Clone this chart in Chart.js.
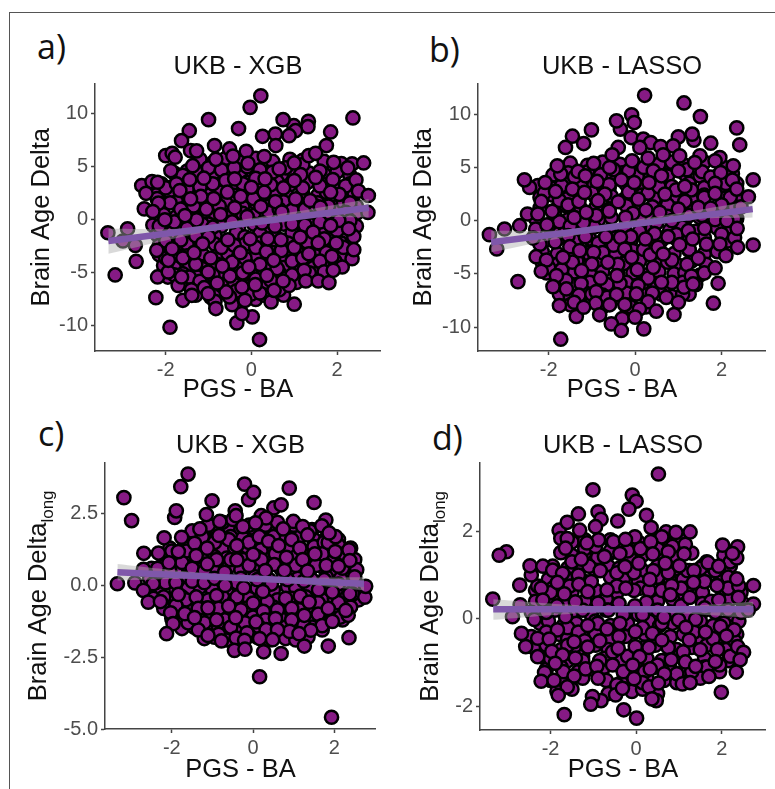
<!DOCTYPE html>
<html>
<head>
<meta charset="utf-8">
<title>Brain age delta panels</title>
<script src="https://cdn.jsdelivr.net/npm/chart.js@4/dist/chart.umd.min.js"></script>
<style>
    html, body { margin: 0; padding: 0; background: #fff; }
    #page { position: relative; width: 775px; height: 789px; overflow: hidden; }
    #frame { position: absolute; left: 9px; top: 12px; right: 0; bottom: 0; border-top: 1px solid #555; border-left: 1px solid #555; }
    canvas { position: absolute; }
    .panel-label { position: absolute; font-family: "Open Sans", sans-serif; font-size: 34px; line-height: 40px; color: #111; }
</style>
</head>
<body>
<div id="page">
    <div id="frame"></div>
    <div class="panel-label" style="left:37px; top:26px">a)</div>
    <div class="panel-label" style="left:429px; top:29px">b)</div>
    <div class="panel-label" style="left:38px; top:413px">c)</div>
    <div class="panel-label" style="left:432px; top:417px">d)</div>
    <canvas id="chart-a"></canvas>
    <canvas id="chart-b"></canvas>
    <canvas id="chart-c"></canvas>
    <canvas id="chart-d"></canvas>
</div>
<script>
const x_title = 'PGS - BA'
const x_ticks = [-2, 0, 2]

// dots mostly buried in the dense middle, positions are estimates, drawn first
const a_hidden = [
    [-1.2,5.7],[-.9,5.4],[-.6,5.8],[-.2,5.5],[.1,5.8],[.5,5.5],[.9,5.7],[1.2,5.6],[1.7,5.5],[2.1,5.3],
    [-1.8,4.4],[-1.5,4.6],[-1.15,4.2],[-.85,4.5],[-.55,4.3],[-.25,4.6],[.05,4.3],[.35,4.5],[.7,4.2],[1,4.5],[1.35,4.4],[1.7,4.3],[2,4.5],[2.3,4.2],
    [-2.1,3.4],[-1.85,3.1],[-1.3,3.6],[-1,3.2],[-.7,3.4],[-.45,3.1],[-.1,3.5],[.2,3.2],[.6,3.6],[.9,3.3],[1.3,3.5],[1.7,3.3],[2,3.1],[2.3,3.4],
    [-2.2,2.4],[-1.9,2.6],[-1.55,2.2],[-1.3,2.5],[-1,2.3],[-.75,2.6],[-.4,2.3],[-.1,2.6],[.15,2.3],[.55,2.6],[.85,2.2],[1.2,2.5],[1.55,2.3],[1.75,2.6],[2.2,2.2],[2.4,2.5],
    [-2.1,1.4],[-1.75,1.7],[-1.5,1.3],[-1.2,1.6],[-.95,1.3],[-.6,1.6],[-.2,1.2],[.1,1.6],[.4,1.3],[.75,1.7],[1.15,1.3],[1.55,1.6],[1.95,1.2],[2.15,1.6],[2.45,1.3],
    [-2.05,.5],[-1.75,.3],[-1.45,.7],[-1.1,.4],[-.85,.6],[-.5,.3],[-.2,.6],[.05,.4],[.4,.7],[.85,.3],[1.1,.6],[1.45,.3],[1.75,.6],[2.15,.3],[2.45,.6],
    [-2.3,-.5],[-1.95,-.8],[-1.65,-.4],[-1.35,-.7],[-1,-.4],[-.7,-.6],[-.3,-.8],[.05,-.4],[.4,-.7],[.75,-.4],[1.1,-.8],[1.4,-.5],[1.75,-.7],[2.1,-.4],[2.45,-.6],
    [-2.2,-1.4],[-1.85,-1.2],[-1.5,-1.6],[-1.2,-1.3],[-.85,-1.5],[-.35,-1.2],[-.15,-1.6],[.2,-1.3],[.55,-1.5],[.95,-1.2],[1.25,-1.6],[1.7,-1.3],[1.95,-1.5],[2.2,-1.2],
    [-2.15,-2.4],[-1.75,-2.6],[-1.5,-2.3],[-1.2,-2.5],[-.85,-2.3],[-.55,-2.5],[-.15,-2.3],[.2,-2.2],[.5,-2.5],[.85,-2.2],[1.15,-2.6],[1.5,-2.8],[1.75,-2.5],[2.1,-2.2],[2.3,-2.4],
    [-2.15,-3.3],[-1.8,-3.1],[-1.5,-3.4],[-1.15,-3.2],[-.8,-3.4],[-.55,-3.2],[-.3,-3.5],[.1,-3.3],[.5,-3.1],[.8,-3.5],[1.1,-3.2],[1.5,-3.4],[1.75,-3.1],[2.1,-3.4],
    [-2.05,-4.3],[-1.8,-4.5],[-1.45,-4.2],[-1.15,-4.6],[-.8,-4.2],[-.55,-4.5],[-.3,-4.3],[.05,-4.6],[.35,-4.3],[.75,-4.5],[1.05,-4.2],[1.45,-4.5],[1.75,-4.2],[2.05,-4.4],
    [-1.95,-5.4],[-1.6,-5.1],[-1.3,-5.3],[-1,-5.5],[-.7,-5.1],[-.35,-5.4],[0,-5.1],[.25,-5.3],[.65,-5],[.8,-5.5],[1.15,-5.2],[1.5,-5.1],
    [-1.7,-6],[-1.45,-6.2],[-1.1,-6],[-.9,-6.3],[-.55,-5.9],[-.4,-6.1],[-.05,-6.3],[.3,-6],[.6,-6.2],[1.05,-5.9],
    [-1.3,-7.1],[-.95,-7.3],[-.75,-6.9],[-.2,-7.2],[.1,-7.5],[.45,-7],[.75,-7.1]
]
const b_hidden = [
    [-1.5,5.4],[-1.1,5.2],[-.75,5.5],[-.35,5.3],[-.05,5.5],[.35,5.3],[.75,5.5],[1.15,5.2],[1.6,5.5],[2,5.2],
    [-1.9,4.3],[-1.55,4.5],[-1.25,4.2],[-.9,4.5],[-.6,4.2],[-.3,4.5],[.05,4.2],[.35,4.4],[.75,4.2],[1.15,4.4],[1.5,4.2],[1.9,4.2],[2.25,4.4],
    [-2.25,3.3],[-1.95,3.1],[-1.6,3.5],[-1.25,3.2],[-.95,3.4],[-.6,3.1],[-.2,3.4],[.1,3.1],[.5,3.4],[.85,3.2],[1.25,3.5],[1.6,3.1],[2.05,3.3],[2.35,3.5],
    [-2.2,2.2],[-1.9,2.4],[-1.55,2.1],[-1.25,2.4],[-.9,2.1],[-.55,2.3],[-.25,2],[.15,2.4],[.45,2.1],[.95,2.3],[1.3,2],[1.6,2.4],[2.05,2.1],[2.35,2.3],
    [-2.2,1.2],[-1.85,1],[-1.6,1.4],[-1.25,1.1],[-.9,1.3],[-.6,1.1],[-.2,1.4],[.1,1.1],[.4,1.3],[.75,1.5],[1.3,1.1],[1.55,1.4],[1.95,1],[2.3,1.3],
    [-2.3,.2],[-1.85,.4],[-1.55,.1],[-1.15,.3],[-.85,.1],[-.55,.3],[-.2,0],[.15,.3],[.4,.1],[.75,.4],[1.15,.1],[1.5,.3],[1.85,.5],[2.35,.2],
    [-2.3,-.8],[-1.9,-1],[-1.6,-.7],[-1.3,-.9],[-.95,-.6],[-.6,-.9],[-.25,-.7],[.1,-1],[.4,-.7],[.8,-.9],[1.1,-.6],[1.4,-1],[1.9,-.7],[2.2,-.9],
    [-2.05,-1.8],[-1.75,-1.6],[-1.4,-1.9],[-1.05,-1.7],[-.75,-1.9],[-.45,-1.6],[-.1,-1.9],[.3,-1.7],[.6,-1.9],[.95,-1.7],[1.2,-2],[1.6,-1.6],[2.15,-1.9],
    [-2.15,-2.9],[-1.8,-3.1],[-1.45,-2.8],[-1.1,-3],[-.8,-2.8],[-.45,-3.1],[-.05,-2.8],[.25,-3.1],[.5,-2.9],[.9,-3.1],[1.25,-2.8],[1.6,-3.1],[1.9,-2.9],
    [-2.15,-3.9],[-1.8,-4.1],[-1.35,-3.8],[-1.05,-4.1],[-.8,-3.8],[-.25,-4],[.1,-3.8],[.55,-4.1],[.75,-3.9],[1,-4.2],[1.3,-3.8],[1.65,-4.1],
    [-2.05,-4.9],[-1.6,-5.1],[-1.4,-4.8],[-1.05,-5],[-.75,-4.8],[-.4,-5],[-.05,-4.9],[.25,-5.1],[.55,-4.8],[.9,-5],[1.15,-4.9],[1.5,-5.1],
    [-1.7,-5.9],[-1.4,-6.1],[-1.05,-5.8],[-.65,-6],[-.2,-5.8],[.15,-6],[.5,-5.9],[.75,-6.1],[1.1,-5.8],[1.4,-6],
    [-1.75,-6.9],[-1.5,-7.1],[-1.15,-6.8],[-.75,-7],[-.2,-6.8],[.25,-7],[.6,-6.9],[.85,-7.1],[1.25,-6.9],
    [-1.5,-7.9],[-.75,-8.1],[-.1,-7.9],[.25,-8.1]
]
const c_hidden = [
    [-1.2,2],[-.9,1.95],[-.6,2.05],[-.3,1.95],[0,2],[.35,2],[.7,1.95],[1.05,2],[1.45,1.95],
    [-1.55,1.65],[-1.2,1.7],[-.85,1.6],[-.55,1.7],[-.25,1.65],[.1,1.6],[.45,1.7],[.8,1.6],[1.15,1.7],[1.5,1.6],[1.8,1.65],[2.1,1.6],
    [-2.05,1.3],[-1.7,1.35],[-1.35,1.25],[-1.05,1.35],[-.75,1.25],[-.45,1.3],[-.15,1.35],[.2,1.25],[.5,1.35],[.85,1.3],[1.2,1.25],[1.5,1.35],[1.8,1.25],[2.15,1.35],[2.4,1.3],
    [-2.2,.95],[-1.9,.9],[-1.55,1],[-1.25,.9],[-.95,1],[-.65,.95],[-.25,.9],[.1,1],[.4,.9],[.75,.95],[1.05,1],[1.4,.9],[1.7,.95],[2,.9],[2.3,1],[2.5,.9],
    [-2.5,.6],[-2.25,.65],[-1.9,.55],[-1.6,.65],[-1.3,.55],[-1,.6],[-.6,.65],[-.3,.55],[0,.6],[.35,.65],[.7,.55],[1,.6],[1.4,.55],[1.7,.65],[1.95,.55],[2.3,.65],[2.55,.55],
    [-2.55,.25],[-2.2,.3],[-1.95,.2],[-1.6,.3],[-1.3,.25],[-1,.2],[-.65,.3],[-.3,.25],[.05,.3],[.4,.2],[.75,.3],[1.1,.25],[1.45,.2],[1.8,.3],[2.15,.25],[2.5,.2],
    [-2.55,-.1],[-2.3,-.05],[-1.9,-.15],[-1.6,-.1],[-1.3,-.05],[-1,-.15],[-.6,-.1],[-.35,-.05],[.1,-.1],[.5,-.15],[.85,-.05],[1.05,-.1],[1.4,-.15],[1.8,-.05],[2.2,-.1],[2.6,-.15],
    [-2.45,-.45],[-2,-.5],[-1.75,-.4],[-1.4,-.45],[-1.1,-.5],[-.75,-.4],[-.45,-.5],[-.1,-.45],[.2,-.4],[.6,-.5],[.95,-.45],[1.3,-.4],[1.7,-.5],[2,-.45],[2.3,-.4],[2.6,-.5],
    [-2.2,-.8],[-1.8,-.85],[-1.5,-.75],[-1.15,-.8],[-.9,-.85],[-.55,-.75],[-.2,-.8],[.1,-.85],[.5,-.75],[.8,-.8],[1.15,-.85],[1.45,-.75],[1.75,-.8],[2.05,-.85],[2.4,-.75],
    [-2,-1.15],[-1.7,-1.1],[-1.3,-1.2],[-1,-1.1],[-.7,-1.2],[-.35,-1.15],[0,-1.1],[.3,-1.2],[.65,-1.1],[1,-1.15],[1.35,-1.2],[1.65,-1.1],[1.95,-1.15],[2.2,-1.2],
    [-1.75,-1.5],[-1.45,-1.45],[-1.15,-1.55],[-.85,-1.45],[-.6,-1.55],[-.25,-1.5],[.1,-1.45],[.45,-1.55],[.8,-1.45],[1.05,-1.55],[1.45,-1.45],[1.7,-1.55],
    [-1.2,-1.85],[-.95,-1.8],[-.65,-1.9],[-.3,-1.85],[.1,-1.8],[.4,-1.9],[.8,-1.85],[1.05,-1.9],[1.35,-1.8]
]
const d_hidden = [
    [-1.5,1.75],[-1.2,1.8],[-.95,1.7],[-.6,1.8],[-.3,1.7],[.05,1.75],[.45,1.8],[.8,1.7],[1.05,1.8],
    [-1.5,1.45],[-1.2,1.5],[-.9,1.4],[-.6,1.5],[-.15,1.4],[.15,1.45],[.55,1.5],[.95,1.4],[1.3,1.5],[2.05,1.45],
    [-1.6,1.15],[-1.25,1.2],[-.95,1.1],[-.65,1.2],[-.4,1.15],[.15,1.1],[.5,1.2],[.95,1.15],[1.25,1.1],[1.55,1.2],[1.8,1.15],[2.2,1.2],
    [-2.05,.9],[-1.65,.95],[-1.2,.85],[-.6,.95],[-.3,.9],[.05,.85],[.5,.95],[.8,.85],[1.1,.9],[1.6,.95],[1.95,.85],[2.25,.9],
    [-2.35,.65],[-1.95,.7],[-1.5,.6],[-.95,.65],[-.45,.6],[.1,.7],[.45,.65],[1,.6],[1.2,.7],[1.55,.6],[2.1,.65],[2.45,.6],
    [-2.35,.4],[-1.95,.45],[-1.6,.35],[-1.2,.4],[-.7,.45],[-.4,.35],[.5,.4],[.85,.45],[1.55,.35],[1.75,.4],[2.2,.45],[2.5,.35],
    [-2.45,.15],[-2.2,.1],[-1.9,.2],[-1.5,.15],[-1.05,.1],[-.7,.2],[-.2,.15],[.05,.1],[.35,.2],[.8,.15],[1.2,.1],[1.6,.2],[1.85,.15],[2.25,.1],[2.5,.2],
    [-2.25,-.1],[-2.05,-.05],[-1.7,-.15],[-1.4,-.1],[-.95,-.05],[-.6,-.15],[-.2,-.1],[.3,-.05],[.55,-.15],[.85,-.1],[1.5,-.05],[1.8,-.15],[2.05,-.1],[2.4,-.05],
    [-2.45,-.4],[-1.8,-.35],[-1.6,-.45],[-1.25,-.4],[-.95,-.35],[-.6,-.45],[-.25,-.4],[.2,-.35],[.45,-.45],[.8,-.4],[1.1,-.35],[1.45,-.45],[1.95,-.4],[2.35,-.35],
    [-2.4,-.65],[-2.1,-.6],[-1.75,-.7],[-1.45,-.65],[-.95,-.6],[-.65,-.7],[.2,-.65],[.45,-.6],[.95,-.7],[1.3,-.65],[1.65,-.6],[2.1,-.7],
    [-2.1,-.9],[-1.6,-.95],[-1.25,-.85],[-.75,-.9],[-.35,-.95],[-.1,-.85],[.25,-.9],[.6,-.95],[1,-.85],[1.6,-.9],[2.15,-.95],
    [-2.1,-1.15],[-1.75,-1.1],[-1.35,-1.2],[-1,-1.15],[-.75,-1.1],[-.3,-1.2],[.05,-1.15],[.45,-1.1],[.85,-1.2],[1.15,-1.15],[1.6,-1.1],[1.95,-1.2],
    [-2,-1.4],[-1.75,-1.45],[-1.25,-1.35],[-.7,-1.4],[-.35,-1.45],[.25,-1.35],[.65,-1.4],[.95,-1.45],[1.5,-1.35],
    [-1.85,-1.65],[-1.5,-1.6],[-.65,-1.7],[-.1,-1.65],[.15,-1.6],[.5,-1.7]
]

// [PGS, delta] of the dots that can be picked out in the picture
const a_points = [
    [-1.6,4.2],[-1.3,4.6],[-1,4.9],[-.7,4.7],[-.4,4.9],[-.1,5],[.2,4.7],[.5,4.5],[.8,4.9],[1.2,5.2],[1.6,4.6],[1.9,3.8],[2.2,3.2],
    [-2,3],[-1.75,3.4],[-1.5,2.9],[-1.2,3.1],[-.9,3.4],[-.6,3.7],[-.2,3.4],[.1,3.9],[.45,3.3],[.75,3],[1.2,3],[1.6,3.2],[2.05,2.4],[2.3,1.6],
    [-2.2,2],[-1.9,1.6],[-1.65,1],[-1.35,1.3],[-1.05,1],[-.75,1.3],[-.25,2.2],[.05,2],[.3,2.6],[.65,1],[.95,.9],[1.25,1],[1.5,1.3],[1.8,1.3],[2.2,.7],
    [-2.15,-.6],[-1.8,-.2],[-1.5,-.8],[-1.15,-.4],[-.9,-.7],[-.45,-.2],[-.1,.3],[.25,-.3],[.55,-.6],[.95,-.4],[1.25,-.5],[1.6,-.2],[2,-1],[2.3,-.1],
    [-2,-2],[-1.65,-1.9],[-1.3,-1.5],[-1,-1.6],[-.7,-2.6],[-.4,-2.4],[.1,-2.6],[.35,-3],[.7,-2.9],[1,-2.6],[1.3,-2.1],[1.7,-1.8],[2.15,-2.6],
    [-2,-3.6],[-1.6,-3.6],[-1.3,-4.2],[-.95,-3.6],[-.45,-4],[-.15,-3.6],[.2,-4.2],[.6,-4.6],[.95,-3.9],[1.2,-3.6],[1.6,-3.9],[1.95,-3.9],
    [-1.8,-5.2],[-1.45,-5.4],[-1.2,-5.8],[-.9,-5.2],[-.5,-5.3],[-.2,-5],[.1,-5.6],[.45,-5.7],[.95,-5.2],[1.35,-5],[1.7,-4.9],
    [-1.4,-6.6],[-1.1,-6.4],[-.7,-6.2],[-.35,-6.7],[0,-7],[.3,-7.1],[.65,-6.6],[-.85,-7.7],[-.45,-8],[-.15,-7.6],[.2,-6.9],
    [.22,11.69],[-.03,10.6],[-1,9.44],[2.37,9.6],[.99,8.87],[1.33,9.28],[1.32,8.78],[.74,9.44],[-.3,8.6],[-1.45,8.4],[1.85,8.28],[-1.63,7.46],[1.03,8.4],[.26,7.87],[.56,8.09],[.88,7.93],
    [1.75,7],[.57,7],[-.86,7],[-1.42,6.52],[-1.28,6.5],[-.51,6.68],[-.12,6.46],[-2,6.05],[-1.85,6.27],[-1.78,5.9],[-.83,5.7],[-.43,6],[.3,5.96],[1.34,6.05],[1.5,6.27],[1,5.36],[-.08,5.33],
    [1.92,5.42],[2.35,5.27],[2.62,5.36],[2.25,4.89],[-1.88,4.64],[-1.37,5.1],[.65,4.8],[1.15,4.26],[1.5,4],[2.44,3.76],[-2.56,3.23],[-2.32,3.6],[-2.19,3.54],[-2.46,2.5],[-1.67,2.76],[-1.44,3.8],
    [-1.11,3.92],[-.39,3.86],[.32,3.86],[0,3.07],[1,3.7],[2.5,2.7],[2.73,2.29],[1.85,2.6],[1.37,1.82],[1.03,1.97],[.56,1.72],[.22,1.25],[-.39,1.13],[-.56,2.6],[-.88,2],[-1.18,2.2],[-1.42,1.97],
    [-2.17,1.57],[-2.5,1.03],[-2.3,.78],[-2.02,0],[-1.28,0],[-.72,.5],[-1.55,.4],[.71,.72],[2.72,.69],[1.61,1.2],[2.04,-.06],[-3.35,-1.22],[-2.89,-.85],[-3,-2],[-2.71,-2.41],[-2.69,-3.92],[-3.18,-5.2],
    [-2.19,-5.39],[-2.23,-7.34],[-1.9,-10.13],[.19,-11.29],[1,-7.96],[-.34,-9.72],[.02,-9.15],[-.22,-8.84],[-.83,-8.37],[.46,-7.74],[-1.6,-7.59],[-1.39,-7.12],[-1.01,-6.96],[-.51,-7.27],[-.59,-6.8],
    [-.22,-6.33],[.09,-6.11],[.53,-6.65],[.88,-6.18],[.74,-5.77],[1.23,-4.76],[1.27,-5.77],[1.56,-5.77],[1.81,-5.92],[-1.71,-6.18],[-1.63,-5.39],[-1.94,-4.92],[-1.94,-3.82],[-2.21,-2.88],[-1.85,-2.73],
    [-1.14,-2.26],[-1.34,-3.1],[-1.01,-4.92],[-.8,-5.96],[-.68,-4.36],[-.55,-1.88],[-.26,-3.1],[-.06,-4.45],[-.03,-1.79],[.38,-1.79],[.69,-1.88],[.52,-3.82],[.36,-5.24],[1.14,-1.63],[1.34,-3.2],[1.44,-1.16],
    [1.56,-2.16],[1.88,-3.45],[1.98,-2.19],[1.85,-.53],[2.39,-1.57],[2.35,-3.67],[2.39,-2.82],[2.12,-4.45],[1.91,-4.76],[2.27,-.85]
]
const b_points = [
    [-1.7,3.3],[-1.4,4.1],[-1.1,4.6],[-.8,4.3],[-.5,4.8],[-.15,4.7],[.2,5],[.55,5.3],[.85,5.5],[1.2,4.8],[1.55,4.6],[1.75,4.1],[2.1,3.5],[2.2,2.2],
    [-2.1,2.6],[-1.75,1.9],[-1.55,1.5],[-1.3,1.8],[-1,2.6],[-.6,3.4],[-.15,2.7],[.3,2.6],[.55,3.2],[.95,2.9],[1.3,2.9],[1.6,2.2],[2,1.5],[2.45,1.3],
    [-2,-.5],[-1.75,-.1],[-1.5,-.5],[-1.2,-.2],[-.9,.5],[-.6,.9],[-.05,.7],[.25,1],[.5,-.2],[.85,0],[1.25,.5],[1.55,.5],[1.85,.1],[2.3,.2],
    [-2.2,-2.2],[-1.85,-2],[-1.55,-1.4],[-1.15,-1.5],[-.85,-2.1],[-.5,-2.3],[-.1,-1.5],[.2,-2.7],[.45,-1.2],[.95,-1.3],[1.25,-2.7],[1.65,-2.2],[2.3,-1.6],
    [-2,-4.4],[-1.7,-4.6],[-1.45,-3.9],[-1.05,-3.2],[-.75,-3],[-.4,-4.1],[.05,-4.6],[.35,-3.2],[.85,-3.7],[1.2,-4.1],[1.6,-4.9],
    [-1.6,-5.6],[-1.25,-5.9],[-.8,-5.4],[-.35,-5.9],[.3,-5.4],[.4,-6.8],[.85,-5.8],[1.3,-5.2],[-1.3,-7],[-1,-6.9],[-.65,-7.2],[-.1,-8.1],[.3,-7.6],[.72,-7.2],[1.1,-6.9],[-.3,-9.2],[.1,-8.3],
    [.22,11.78],[1.13,11.06],[1.51,9.78],[-.08,9.94],[-.02,9.22],[-.34,8.6],[-.43,9.38],[-1.01,8.53],[-1.45,7.94],[-1.19,7.25],[-1.61,6.88],[2.35,8.72],[2.42,7.13],[1.36,7.56],[1.32,8.13],[1,7.88],[1.75,7.28],
    [-.09,7.81],[.19,7.66],[.36,7.34],[.59,6.97],[.88,7.03],[-.39,6.88],[.11,6.88],[-.53,6.19],[.65,6.19],[1.03,6.09],[1.5,6.09],[.3,5.88],[-.07,5.63],[-.96,5.38],[-.59,5],[-1.72,4.38],[-1.8,5.16],[-1.32,4.63],
    [-1.15,4.22],[1.38,5.47],[1,4.69],[.42,4.69],[1.96,5.94],[1.85,5.63],[2.27,5.16],[1.98,4.53],[-2.44,3.13],[-2.56,3.84],[-2.08,3.59],[-1.84,2.75],[-1.45,2.97],[-.88,3.69],[-.32,3.84],[-.02,3.59],[.61,4.22],[.32,3.59],
    [1.15,3.22],[1.85,3.5],[2.25,3.81],[2.73,3.84],[2.35,2.97],[2.62,2.25],[1.85,2.56],[.69,2.5],[-.7,2.5],[-1.17,2.66],[.07,2.03],[-.86,1.88],[-.39,1.78],[-2.17,1.81],[1.15,1.81],[1.46,1.25],[1.75,1.19],
    [-2.49,.63],[-2.25,.63],[-1.92,.88],[-1.41,.31],[-1.13,.78],[-.22,.31],[.57,.78],[1,1.09],[-2.67,-.47],[-3.02,-.78],[-3.37,-1.31],[-3.2,-2.66],[-2.36,-1.63],[-2.04,-.38],[2.12,0],[2.36,-.72],[2.73,-2.28],[2.37,-2.5],
    [1.61,-.72],[2,-1.25],[1.23,-.94],[1.33,-1.72],[-.68,-1.5],[-.34,-1.56],[.24,-1.72],[.76,-1.5],[1.03,-2.25],[2.1,-3.28],[1.96,-2.19],[-.24,-2.66],[.53,-2.5],[-1.51,-2.44],[-1.28,-2.81],[-1.67,-3.44],[-2.29,-3.38],[-2.05,-3.69],
    [-.96,-2.97],[-.08,-3.44],[.65,-3.13],[1.46,-3.53],[1.85,-4.44],[-1,-4.06],[-.63,-3.91],[.42,-4.38],[-2.17,-4.75],[-1.82,-5.16],[-.42,-5.16],[-1.24,-4.69],[1.92,-5.88],[1.13,-6.25],[1.34,-5.94],[.61,-5.78],[.07,-6.09],
    [-1.9,-6.19],[-1.59,-6.41],[-.9,-6.66],[-.43,-6.94],[.03,-6.88],[-2.71,-5.72],[1.81,-7.75],[1,-7.66],[-1.41,-7.66],[-1.75,-7.97],[-.91,-7.75],[-.59,-7.9],[-.24,-7.88],[.49,-8.5],[.9,-8.81],
    [-1.36,-9],[-.82,-8.84],[-1.19,-8.13],[0,-9.06],[-.55,-9.69],[-.32,-10.31],[.2,-10.16],[-1.72,-11.13]
]
const c_points = [
    [-1.5,1.9],[-1.1,2.1],[-.75,2.2],[-.5,2.3],[-.1,2.1],[.3,2.1],[.6,2.2],[1,2.1],[1.4,1.9],[1.75,1.5],[2.1,1.4],
    [-2,1.2],[-1.65,1.2],[-1.25,1.7],[-.95,1.5],[-.6,1.6],[-.1,1.5],[.15,1.7],[.5,1.7],[.95,1.6],[1.15,1.3],[1.7,1.1],[1.85,1.5],[2.25,1.1],
    [-2.35,.6],[-2.05,.5],[-1.75,.8],[-1.5,.6],[-1.2,.5],[-.9,.9],[-.55,.9],[-.1,.7],[.2,.9],[.55,1.1],[1.05,.7],[1.55,.7],[1.8,.7],[2.2,.6],[2.5,.3],
    [-2.4,.1],[-2.15,.1],[-1.9,.1],[-1.5,.15],[-1.2,.1],[-.95,.25],[-.4,.1],[.1,.2],[.45,.05],[.85,.2],[1.25,.15],[1.75,.2],[2.1,.05],[2.45,-.3],
    [-2.2,-.4],[-1.65,-.5],[-1.4,-.4],[-.9,-.35],[-.4,-.4],[.35,-.55],[.8,-.45],[1.6,-.6],[2.1,-.6],[-1.9,-.7],[-1.35,-.8],[-.85,-.8],[-.3,-.85],[.25,-.9],[.6,-.85],[.95,-.8],[1.6,-1],[1.85,-.8],[2.15,-1.1],
    [-1.6,-1.3],[-1.2,-1.3],[-.9,-1.2],[-.55,-1.45],[-.2,-1.3],[.3,-1.2],[.55,-1.15],[.95,-1.2],[1.25,-1.4],[1.7,-1.4],[-1.35,-1.55],[-.85,-1.7],[-.15,-1.65],[.15,-1.45],[.9,-1.6],
    [-1.6,3.88],[-1.78,3.44],[-3.18,3.06],[-2.99,2.26],[-.21,3.53],[-.11,2.99],[.01,3.24],[.89,3.39],[-1.01,2.95],[.51,2.7],[.69,2.81],[1.5,2.89],[-1.93,2.37],[-1.89,2.6],[-1.15,2.47],[-.44,2.6],[-.42,2.43],[.2,2.43],[.32,2.35],
    [1.79,2.28],[1.69,2.08],[-.82,2.23],[-.25,2.05],[.06,2.18],[.99,2.23],[-1.31,1.97],[.74,1.97],[1.22,2.05],[2.03,1.7],[1.87,1.83],[-.84,1.74],[-1.76,1.68],[-2.19,1.66],[1.34,1.76],[-1.44,1.47],[-.4,1.39],[.38,1.54],[.63,1.39],
    [1.52,1.1],[-2.33,1.13],[-2.69,1.12],[-1.84,1.18],[-1.13,1.3],[0,1.08],[.82,.98],[2.36,1.24],[2.02,1.18],[1.22,.9],[-1.4,1.04],[-.4,.89],[2.38,.87],[-2.07,.79],[-1.13,.75],[2.1,.67],[-2.7,.56],[.52,.73],[.3,.52],[.77,.52],[1.34,.5],[-.7,.46],
    [-2.91,.09],[-3.34,.06],[-2.46,.06],[-2.7,-.17],[-.69,0],[-.23,-.08],[1.61,-.15],[1.95,-.23],[2.38,-.29],[2.75,-.41],[2.77,-.03],[.24,-.21],[-1.84,-.31],[1.16,-.37],[-2.58,-.58],[-2.28,-.56],[1.38,-.58],[0,-.61],
    [-1.11,-.78],[-.6,-.72],[2.34,-1.04],[2.28,-.87],[-2.03,-.95],[1.26,-1.04],[-1.68,-.98],[-1.44,-1.12],[-.43,-1.12],[.07,-1.27],[1.95,-1.25],[-1.97,-1.33],[.32,-1.54],[1.42,-1.56],[.6,-1.54],[-2.13,-1.68],[-1.11,-1.74],[1.13,-1.68],
    [-.42,-1.83],[.16,-1.85],[.48,-1.89],[-.78,-1.93],[-.21,-1.91],[1.26,-2.11],[1.85,-2.11],[2.36,-1.82],[-.46,-2.26],[-.2,-2.22],[.26,-2.31],[.69,-2.37],[.16,-3.18],[1.93,-4.59]
]
const d_points = [
    [-1.2,1.6],[-.95,1.65],[-.6,1.55],[-.2,1.55],[.1,1.6],[.5,1.6],[.85,1.65],[1.15,1.7],[1.65,1.3],[1.85,1.1],[2.2,1.3],[-1.95,1.2],[-1.5,1.3],[-1.1,1.2],[-.45,1.05],[-.05,1.05],[.4,1.1],[.75,1.05],[1.2,1.1],[1.5,1.15],[2.15,.95],
    [-2.3,.75],[-2,.6],[-1.55,.75],[-1.05,.85],[-.45,.75],[-.05,.65],[.3,.65],[.6,.65],[1.05,.7],[1.6,.85],[2.15,.7],[2.4,.75],
    [-2.1,.15],[-1.85,.3],[-1.25,.2],[-.65,.2],[-.3,.1],[.15,.1],[.5,.2],[1.05,.3],[1.6,.25],[2.15,.2],[2.45,.15],[-2.1,-.3],[-1.6,-.2],[-1.35,-.3],[-.9,-.1],[-.4,-.4],[.15,-.2],[.6,-.1],[1.35,-.3],[1.8,-.45],[2.3,-.5],
    [-2,-.9],[-1.6,-.6],[-1.2,-.5],[-.85,-.5],[-.55,-.75],[-.2,-.85],[.3,-.65],[.75,-.65],[1.1,-.75],[1.5,-.7],[1.9,-.7],[2.2,-.85],[-1.7,-1.2],[-1.25,-.95],[-.85,-.95],[-.55,-1.05],[-.3,-1.2],[.2,-1.2],[.5,-1.05],[.95,-1.25],[1.3,-1.2],[1.65,-1.1],[1.95,-1.05],[-.45,-1.5],[.15,-1.45],[.3,-1.55],
    [.52,3.3],[-1.01,2.94],[-.09,2.82],[0,2.68],[-.17,2.5],[.24,2.36],[-1.35,2.39],[-.89,2.44],[-.82,2.27],[-.43,2.23],[-1.8,2.02],[-1.61,2.2],[-1.32,2.02],[-.95,2.1],[.35,2.08],[.7,1.98],[.93,1.97],[1.26,1.98],
    [-1.76,1.83],[-1.61,1.83],[-.88,1.8],[-.53,1.76],[-.03,1.87],[.6,1.87],[.34,1.76],[-1.15,1.73],[-.25,1.81],[-1.76,1.51],[-1.65,1.61],[-3.03,1.53],[-3.2,1.45],[2.02,1.68],[2.37,1.64],[2.35,1.39],[2.25,1.49],[-.38,1.49],[.39,1.48],[.75,1.53],[1.12,1.48],
    [-1.28,1.36],[-.74,1.42],[.06,1.27],[.68,1.27],[-.26,1.19],[1.68,1.28],[1.93,1.2],[1.01,1.21],[-2.45,1],[-2.48,1.21],[-2.18,1.2],[-1.95,1.11],[-1.72,1.04],[-1.35,1],[-.84,1.1],[1.35,1.1],[2.35,.91],[-1.84,.83],[-2.72,.77],[-1.34,.79],[.32,.9],
    [1.34,.83],[1.89,.76],[2.74,.76],[-2.22,.7],[-.24,.7],[.83,.76],[-.68,.66],[-1.13,.62],[-1.68,.57],[.8,.55],[-3.35,.45],[-2.18,.43],[2.39,.49],[1.25,.49],[1.93,.43],[-2.71,.32],[-1.42,.39],[-.89,.36],[.24,.38],[-.03,.3],[2.74,.34],
    [-2.89,.05],[-2.38,-.01],[-1.65,.05],[.65,.04],[1.39,-.01],[2.62,.2],[-.38,-.1],[.99,-.02],[-2.68,-.33],[-1.13,-.15],[-1.84,-.25],[1.16,-.19],[-.68,-.23],[-.02,-.29],[1.97,-.17],[2.29,-.25],[.38,-.33],[1.62,-.3],
    [-2.3,-.44],[-2.03,-.46],[2.11,-.39],[1.24,-.48],[-1.45,-.52],[.6,-.48],[-2.58,-.63],[-1.97,-.74],[-1.13,-.64],[-.42,-.67],[-.02,-.63],[2.37,-.63],[2.51,-.76],[-2.3,-.86],[-1.72,-.82],[-1.42,-.89],[.08,-.86],[.82,-.93],[1.15,-.98],
    [1.85,-.97],[2.43,-.93],[-1.89,-1.01],[-1.18,-1.14],[-.92,-1.08],[-.08,-1.05],[.33,-1.14],[1.39,-1.08],[-2.14,-1.22],[-1.45,-1.3],[.66,-1.25],[2.34,-1.21],[-.05,-1.36],[-2.22,-1.42],[-1.92,-1.4],[-.89,-1.35],[.52,-1.46],[1.08,-1.48],[1.26,-1.45],[1.7,-1.31],
    [-1.61,-1.55],[-.48,-1.73],[-.32,-1.58],[-1.82,-1.74],[1.99,-1.67],[.47,-1.86],[.37,-1.82],[-.82,-1.86],[-1.02,-1.77],[-1.06,-1.94],[-.29,-2.07],[-1.68,-2.18],[.01,-2.26]
]

// fitted line and the grey confidence band, [x, y]
const a_fit = [[-3.34,-2],[2.74,1.13]]
const b_fit = [[-3.33,-2.03],[2.72,1.09]]
const c_fit = [[-3.34,.46],[2.73,.06]]
const d_fit = [[-3.34,.22],[2.74,.22]]
const a_band_high = [[-3.34,-.85],[-1.5,-.8],[-.3,-.05],[1,.75],[2.74,1.97]]
const a_band_low = [[-3.34,-3.2],[-1.5,-1.5],[-.3,-.6],[1,.15],[2.74,.25]]
const b_band_high = [[-3.33,-.94],[-1.5,-.85],[-.3,-.1],[1,.7],[2.72,1.88]]
const b_band_low = [[-3.33,-2.97],[-1.5,-1.45],[-.3,-.65],[1,.1],[2.72,.31]]
const c_band_high = [[-3.34,.75],[-1.5,.47],[-.3,.33],[1,.28],[2.73,.29]]
const c_band_low = [[-3.34,.17],[-1.5,.23],[-.3,.19],[1,.08],[2.73,-.17]]
const d_band_high = [[-3.34,.45],[-1.5,.32],[-.3,.27],[1,.29],[2.74,.39]]
const d_band_low = [[-3.34,-.02],[-1.5,.12],[-.3,.17],[1,.13],[2.74,.02]]

const panels = [
    { id: 'chart-a', box: [20, 43, 370, 362], right: 8, y_width: 75, x_height: 54, title: 'UKB - XGB', points: a_hidden.concat(a_points), fit: a_fit, high: a_band_high, low: a_band_low,
      x_range: [-3.651, 3.023], y_range: [-12.37, 12.84], y_ticks: [-10, -5, 0, 5, 10], decimals: 0, y_title: 'Brain Age Delta', y_title_pad: 7 },
    { id: 'chart-b', box: [403, 43, 372, 362], right: 9, y_width: 75, x_height: 54, title: 'UKB - LASSO', points: b_hidden.concat(b_points), fit: b_fit, high: b_band_high, low: b_band_low,
      x_range: [-3.634, 3.025], y_range: [-12.24, 12.88], y_ticks: [-10, -5, 0, 5, 10], decimals: 0, y_title: 'Brain Age Delta', y_title_pad: 6 },
    { id: 'chart-c', box: [20, 422, 365, 363], right: 8, y_width: 85, x_height: 56, title: 'UKB - XGB', points: c_hidden.concat(c_points), fit: c_fit, high: c_band_high, low: c_band_low,
      x_range: [-3.645, 3.022], y_range: [-5, 4.28], y_ticks: [-5, -2.5, 0, 2.5], decimals: 1, long_title_x: 36.7 },
    { id: 'chart-d', box: [400, 422, 375, 363], right: 6, y_width: 80, x_height: 55, title: 'UKB - LASSO', points: d_hidden.concat(d_points), fit: d_fit, high: d_band_high, low: d_band_low,
      x_range: [-3.649, 3.032], y_range: [-2.53, 3.56], y_ticks: [-2, 0, 2], decimals: 0, long_title_x: 429 }
]

function to_xy(rows) {
    return rows.map(row => ({ x: row[0], y: row[1] }))
}

// Chart.js axis titles have no subscript, so these get drawn by hand
const long_title_plugin = {
    id: 'long_title',
    afterDraw(chart, args, opts) {
        if (opts.x == null) {
            return
        }
        let ctx = chart.ctx
        let area = chart.chartArea
        let main_text = 'Brain Age Delta'
        let sub_text = 'long'
        ctx.save()
        ctx.translate(opts.x - chart.canvas.offsetLeft, (area.top + area.bottom) / 2)
        ctx.rotate(-Math.PI / 2)
        ctx.fillStyle = '#111'
        ctx.textBaseline = 'alphabetic'
        ctx.font = '25.5px "Liberation Sans"'
        let main_width = ctx.measureText(main_text).width
        ctx.font = '17px "Liberation Sans"'
        let sub_width = ctx.measureText(sub_text).width
        let start = -(main_width + sub_width) / 2
        ctx.font = '25.5px "Liberation Sans"'
        ctx.fillText(main_text, start, 9)
        ctx.font = '17px "Liberation Sans"'
        ctx.fillText(sub_text, start + main_width, 16)
        ctx.restore()
    }
}

function axis_options(range, fit_size, tick_values, decimals, title, title_pad) {
    return {
        type: 'linear',
        min: range[0],
        max: range[1],
        afterFit(scale) {
            if (scale.isHorizontal()) {
                scale.height = fit_size
            } else {
                scale.width = fit_size
            }
        },
        afterBuildTicks(scale) {
            scale.ticks = tick_values.map(v => ({ value: v }))
        },
        border: { display: true, color: '#444', width: 1.5 },
        grid: { display: true, drawOnChartArea: false, drawTicks: true, tickLength: 4, tickWidth: 1.5, tickColor: '#444' },
        ticks: {
            color: '#4d4d4d',
            font: { family: '"Liberation Sans"', size: 20 },
            padding: 3,
            autoSkip: false,
            maxRotation: 0,
            callback: v => v.toFixed(decimals)
        },
        title: {
            display: title != null,
            text: title,
            color: '#111',
            font: { family: '"Liberation Sans"', size: 25.5 },
            padding: { top: title_pad, bottom: 0 }
        }
    }
}

for (let panel of panels) {
    let canvas = document.getElementById(panel.id)
    canvas.width = panel.box[2]
    canvas.height = panel.box[3]
    canvas.style.left = panel.box[0] + 'px'
    canvas.style.top = panel.box[1] + 'px'

    new Chart(canvas, {
        data: {
            datasets: [
                {
                    type: 'line',
                    order: 0,
                    data: to_xy(panel.fit),
                    borderColor: '#7f57aa',
                    borderWidth: 6.5,
                    pointRadius: 0,
                    fill: false
                },
                {
                    type: 'line',
                    order: 1,
                    data: to_xy(panel.high),
                    borderWidth: 0,
                    pointRadius: 0,
                    tension: 0.4,
                    backgroundColor: 'rgba(170, 170, 170, 0.45)',
                    fill: '+1'
                },
                {
                    type: 'line',
                    order: 1,
                    data: to_xy(panel.low),
                    borderWidth: 0,
                    pointRadius: 0,
                    tension: 0.4,
                    fill: false
                },
                {
                    type: 'scatter',
                    order: 2,
                    data: to_xy(panel.points),
                    backgroundColor: '#861a84',
                    borderColor: '#000',
                    borderWidth: 2.5,
                    pointRadius: 6.6,
                    pointHoverRadius: 6.6
                }
            ]
        },
        options: {
            responsive: false,
            animation: false,
            layout: { padding: { right: panel.right, left: 0, top: 0, bottom: 0 } },
            scales: {
                x: axis_options(panel.x_range, panel.x_height, x_ticks, 0, x_title, 2),
                y: axis_options(panel.y_range, panel.y_width, panel.y_ticks, panel.decimals, panel.y_title, panel.y_title_pad)
            },
            plugins: {
                legend: { display: false },
                tooltip: { enabled: false },
                long_title: { x: panel.long_title_x },
                title: {
                    display: true,
                    text: panel.title,
                    fullSize: false,
                    color: '#111',
                    font: { family: '"Liberation Sans"', size: 25.5, weight: 'normal' },
                    padding: { top: 9, bottom: 1 }
                }
            }
        },
        plugins: [long_title_plugin]
    })
}
</script>
</body>
</html>
